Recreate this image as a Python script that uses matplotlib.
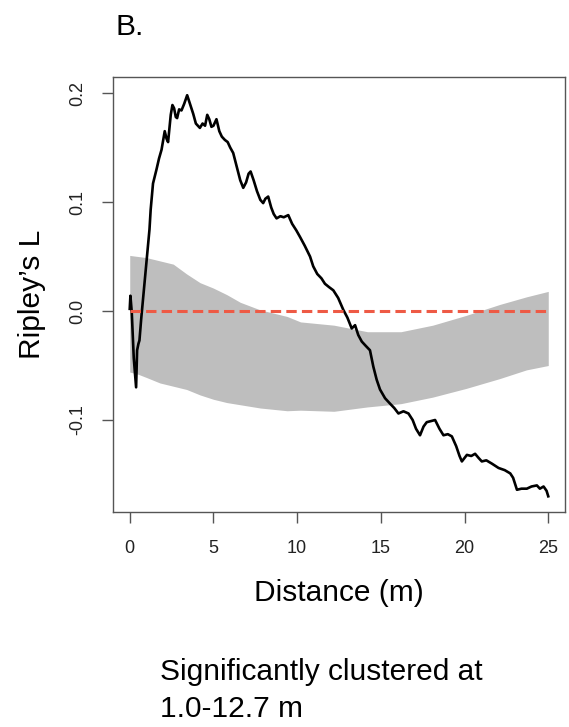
import numpy as np
import matplotlib
matplotlib.use('Agg')
import matplotlib.pyplot as plt

plt.rcParams['font.family'] = ['Liberation Sans', 'DejaVu Sans']

distance = [0.0, 0.04, 0.12, 0.24, 0.30, 0.38, 0.44, 0.52, 0.58, 0.68, 0.88, 1.05, 1.18, 1.25,
            1.39, 1.6, 1.75, 1.9, 2.09, 2.2, 2.29, 2.45, 2.55, 2.65, 2.75, 2.83, 2.95, 3.09,
            3.25, 3.43, 3.6, 3.79, 3.95, 4.19, 4.35, 4.5, 4.63, 4.75, 4.88, 5.0, 5.18, 5.35,
            5.5, 5.68, 5.85, 6.0, 6.18, 6.4, 6.6, 6.78, 6.95, 7.1, 7.22, 7.4, 7.6, 7.8, 7.97,
            8.1, 8.27, 8.45, 8.6, 8.77, 9.0, 9.2, 9.47, 9.7, 9.95, 10.17, 10.45, 10.77, 10.96,
            11.2, 11.45, 11.66, 11.9, 12.16, 12.45, 12.76, 13.0, 13.26, 13.46, 13.65, 13.86,
            14.1, 14.35, 14.55, 14.75, 14.95, 15.25, 15.55, 15.8, 16.05, 16.35, 16.65, 16.9,
            17.1, 17.34, 17.55, 17.74, 18.0, 18.24, 18.5, 18.74, 19.0, 19.24, 19.5, 19.7,
            19.84, 20.14, 20.4, 20.63, 20.85, 21.03, 21.3, 21.63, 22.03, 22.4, 22.73, 22.9,
            23.13, 23.4, 23.72, 24.0, 24.32, 24.5, 24.72, 24.9, 25.0]
ripley_l = [0.002, 0.014, -0.001, -0.043, -0.055, -0.070, -0.036, -0.030, -0.027, -0.008, 0.025,
            0.052, 0.075, 0.093, 0.117, 0.130, 0.140, 0.148, 0.165, 0.158, 0.155, 0.180, 0.189,
            0.186, 0.178, 0.177, 0.185, 0.184, 0.190, 0.198, 0.190, 0.181, 0.172, 0.168, 0.172,
            0.170, 0.180, 0.176, 0.169, 0.170, 0.176, 0.165, 0.160, 0.157, 0.155, 0.150, 0.145,
            0.132, 0.120, 0.113, 0.118, 0.126, 0.128, 0.120, 0.110, 0.102, 0.099, 0.103, 0.105,
            0.095, 0.089, 0.085, 0.087, 0.086, 0.088, 0.080, 0.074, 0.068, 0.060, 0.050, 0.041,
            0.034, 0.030, 0.025, 0.022, 0.019, 0.012, 0.001, -0.006, -0.016, -0.013, -0.022,
            -0.028, -0.032, -0.036, -0.051, -0.063, -0.072, -0.080, -0.085, -0.089, -0.094,
            -0.092, -0.094, -0.100, -0.108, -0.114, -0.106, -0.102, -0.101, -0.100, -0.108,
            -0.114, -0.113, -0.115, -0.124, -0.133, -0.138, -0.132, -0.133, -0.131, -0.135,
            -0.138, -0.137, -0.140, -0.144, -0.146, -0.149, -0.153, -0.164, -0.163, -0.163,
            -0.161, -0.160, -0.163, -0.161, -0.165, -0.170]

# simulation envelope
band_dist = [0, 0.5, 1.0, 1.8, 2.6, 3.4, 4.2, 5.0, 5.8, 6.6, 7.8, 9.4, 10.2, 12.2, 14.2,
             16.2, 18.1, 20.1, 22.1, 23.7, 25]
band_hi = [0.051, 0.050, 0.049, 0.046, 0.043, 0.034, 0.026, 0.021, 0.015, 0.008, 0.001,
           -0.005, -0.010, -0.013, -0.019, -0.019, -0.013, -0.004, 0.006, 0.013, 0.018]
band_lo = [-0.056, -0.058, -0.061, -0.066, -0.069, -0.072, -0.077, -0.081, -0.084, -0.086,
           -0.089, -0.0915, -0.091, -0.092, -0.088, -0.085, -0.079, -0.071, -0.062, -0.054,
           -0.050]

xticks = [0, 5, 10, 15, 20, 25]
yticks = [-0.1, 0.0, 0.1, 0.2]
ytick_labels = ['-0.1', '0.0', '0.1', '0.2']

fig = plt.figure(figsize=(5.69, 7.27), dpi=100)
ax = fig.add_axes([113 / 569, 1 - 512 / 727, 452 / 569, 435 / 727])

ax.fill_between(band_dist, band_lo, band_hi, color='#BEBEBE', linewidth=0)
ax.plot(distance, ripley_l, color='black', lw=1.9)
ax.plot([0, 25], [0, 0], color='#EE5A45', lw=2.2, dashes=(3.4, 1.7))

ax.set_xlim(-1.0, 26.0)
ax.set_ylim(-0.1844, 0.2147)
ax.set_xticks(xticks)
ax.set_yticks(yticks)
ax.set_yticklabels(ytick_labels, rotation=90, va='center')

for s in ax.spines.values():
    s.set_color('#555555')
    s.set_linewidth(1.0)
ax.tick_params(axis='both', direction='out', length=8, width=1.0, color='#555555',
               labelsize=13, labelcolor='#222222')
ax.tick_params(axis='x', pad=12)
ax.tick_params(axis='y', pad=11)

ax.set_xlabel('Distance (m)', fontsize=21.5, labelpad=16)
ax.set_ylabel("Ripley\u2019s L", fontsize=21.5, labelpad=17)

fig.text(115 / 569, 1 - 35 / 727, 'B.', fontsize=21.5, ha='left', va='baseline')
fig.text(160 / 569, 1 - 680 / 727, 'Significantly clustered at', fontsize=21.5,
         ha='left', va='baseline')
fig.text(160 / 569, 1 - 717 / 727, '1.0-12.7 m', fontsize=21.5, ha='left', va='baseline')

fig.savefig('out.png', dpi=100)
